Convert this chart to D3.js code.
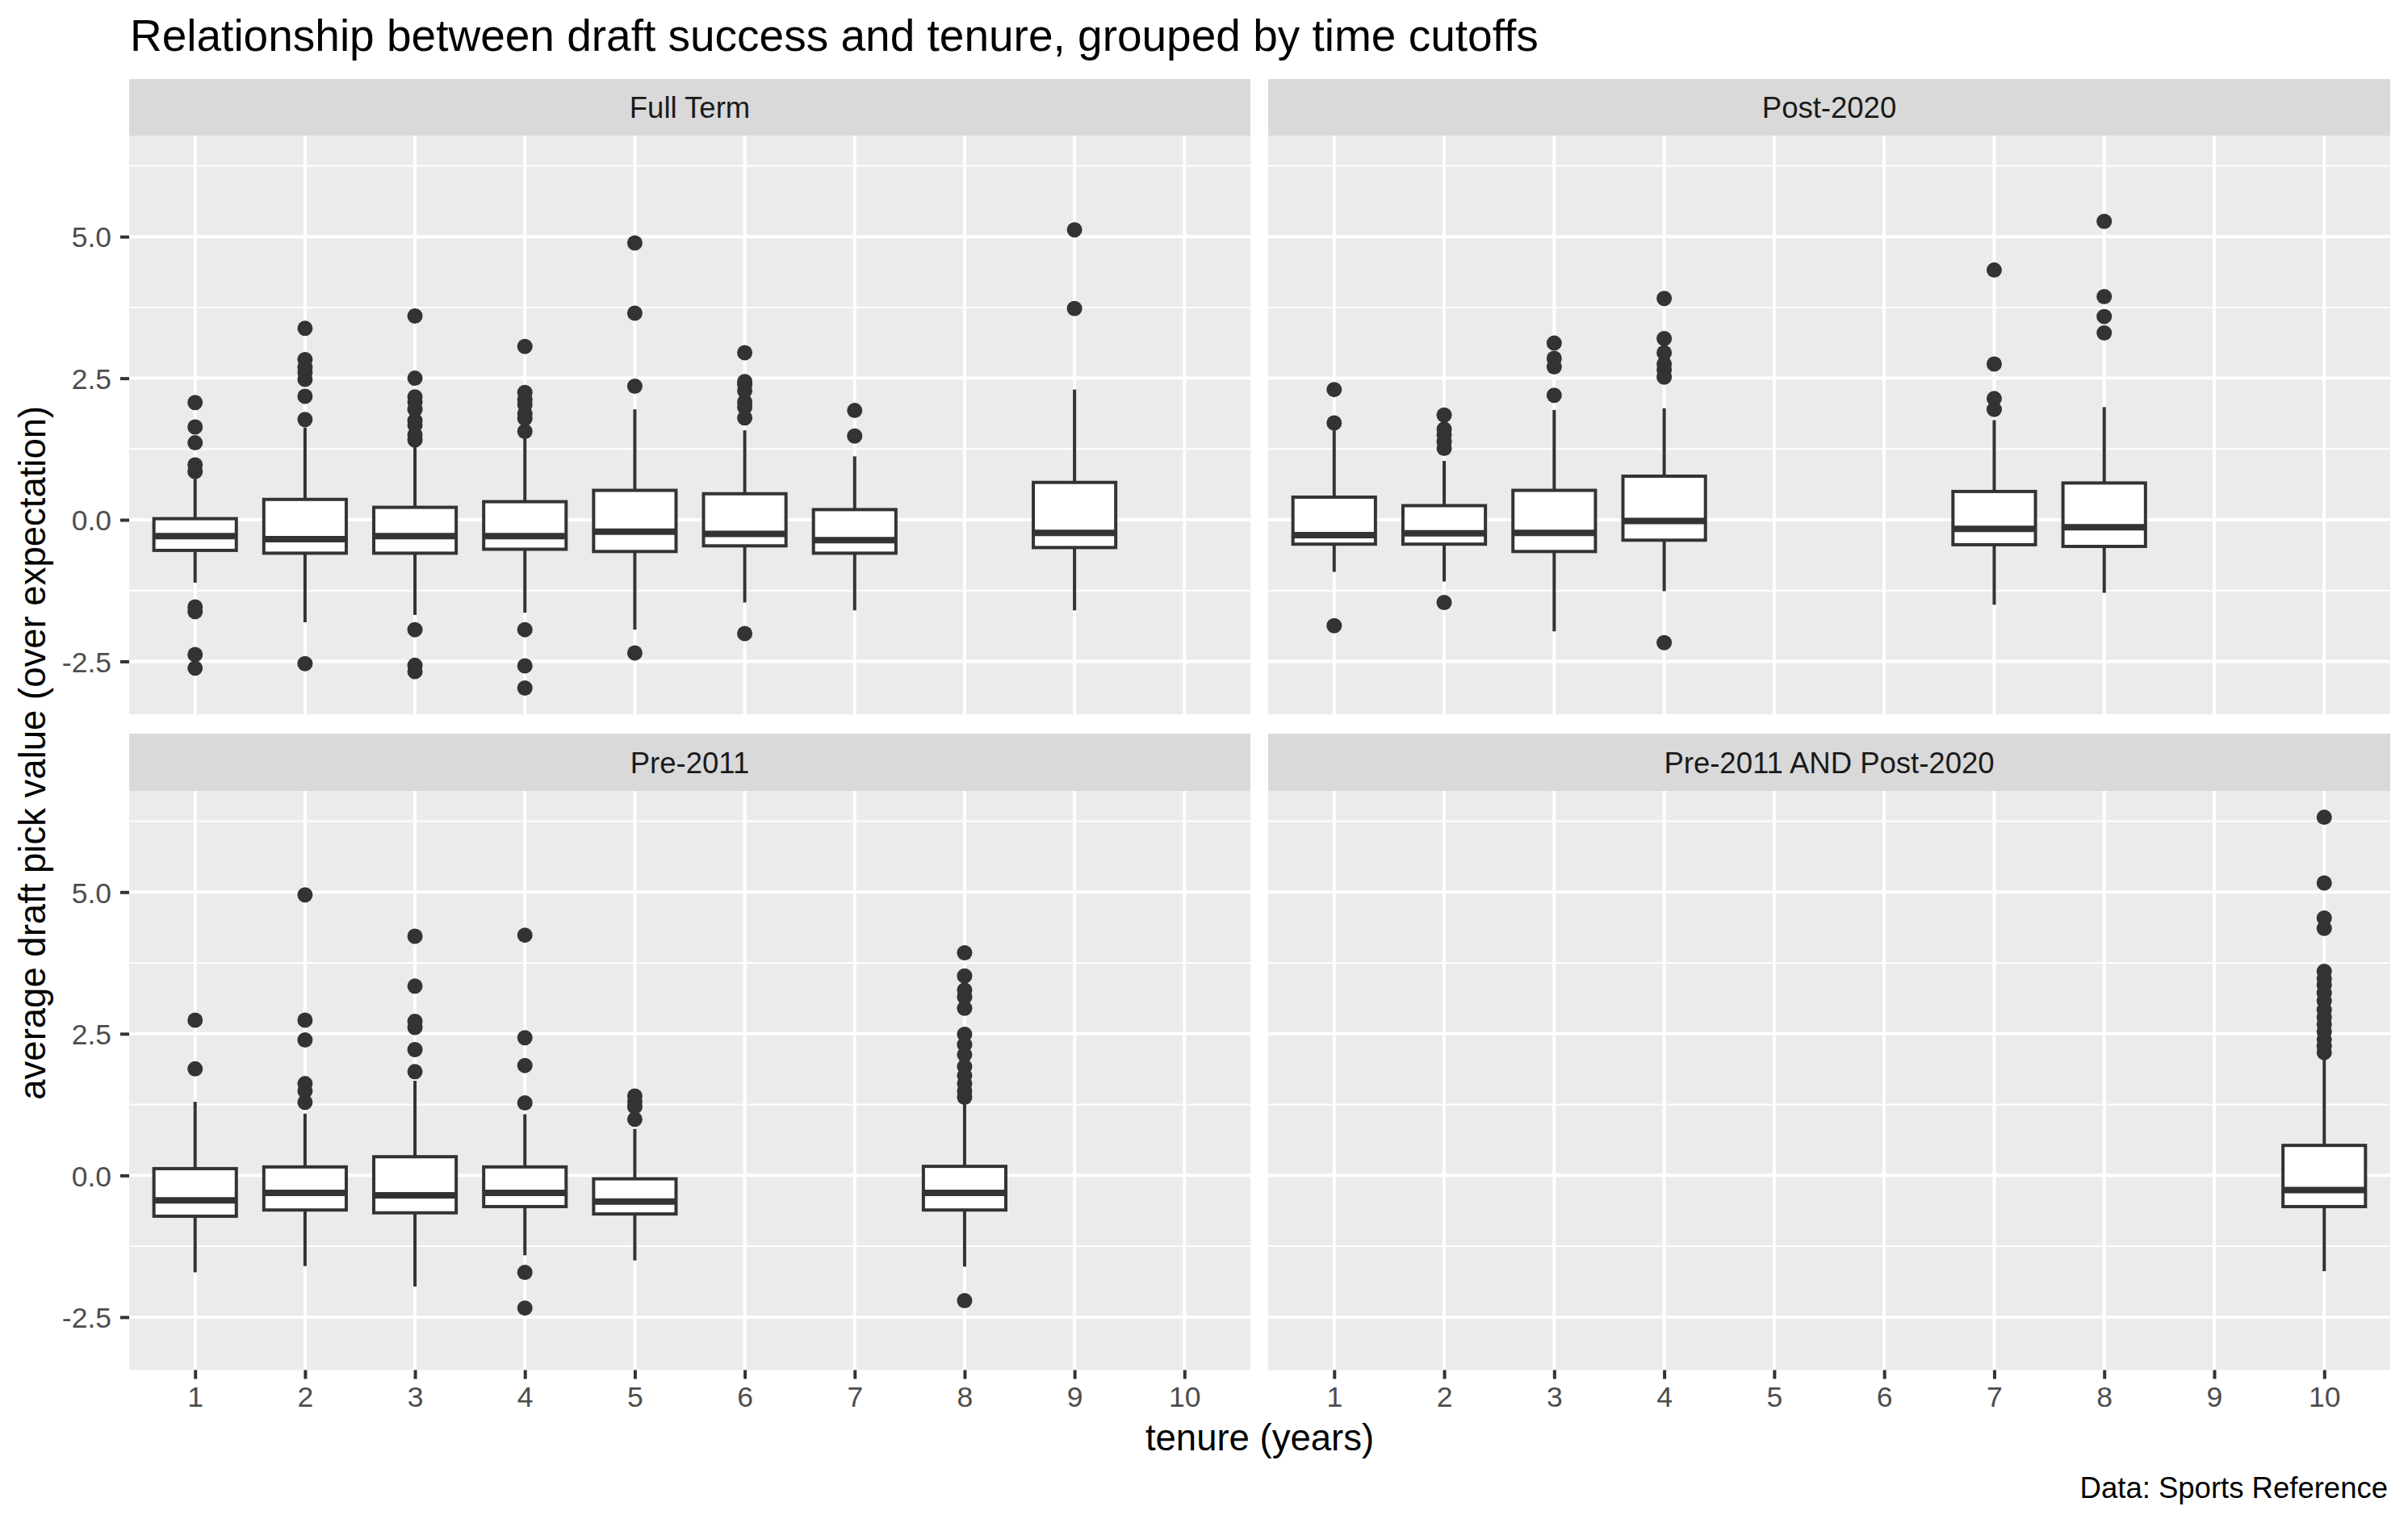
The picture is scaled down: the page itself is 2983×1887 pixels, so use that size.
<!DOCTYPE html>
<html>
<head>
<meta charset="utf-8">
<script src="https://cdn.jsdelivr.net/npm/d3@7"></script>
<style>
  html, body { margin: 0; padding: 0; background: #ffffff; }
  svg { display: block; }
  text { font-family: "Liberation Sans", Arial, Helvetica, sans-serif; }
</style>
</head>
<body>
<svg id="chart" width="2983" height="1887"></svg>
<script>
// ---------------- DATA ----------------
const facetNames = ["Full Term", "Post-2020", "Pre-2011", "Pre-2011 AND Post-2020"];
const tenureCategories = [1, 2, 3, 4, 5, 6, 7, 8, 9, 10];
const yTickValues = [-2.5, 0, 2.5, 5];
const yTickLabels = ["-2.5", "0.0", "2.5", "5.0"];
const yMinorValues = [-3.75, -1.25, 1.25, 3.75, 6.25];

// Full Term
const fullTermTenure  = [1, 2, 3, 4, 5, 6, 7, 9];
const fullTermLower   = [-1.11, -1.81, -1.68, -1.64, -1.94, -1.46, -1.60, -1.60];
const fullTermQ1      = [-0.54, -0.59, -0.59, -0.52, -0.56, -0.46, -0.59, -0.49];
const fullTermMedian  = [-0.29, -0.34, -0.29, -0.29, -0.21, -0.25, -0.36, -0.23];
const fullTermQ3      = [0.02, 0.36, 0.22, 0.32, 0.52, 0.46, 0.18, 0.66];
const fullTermUpper   = [0.72, 1.63, 1.30, 1.46, 1.95, 1.58, 1.12, 2.30];
const fullTermOutliers = [
  [0.85, 0.97, 1.36, 1.64, 2.07, -1.54, -1.62, -2.38, -2.62],
  [1.77, 2.18, 2.48, 2.60, 2.69, 2.83, 3.38, -2.54],
  [1.41, 1.50, 1.67, 1.75, 1.95, 2.08, 2.17, 2.50, 3.60, -1.94, -2.57, -2.68],
  [1.56, 1.79, 1.87, 2.03, 2.12, 2.25, 3.06, -1.94, -2.58, -2.97],
  [2.36, 3.65, 4.89, -2.35],
  [1.80, 1.99, 2.08, 2.28, 2.39, 2.44, 2.95, -2.01],
  [1.48, 1.93],
  [3.73, 5.12]
];

// Post-2020
const post2020Tenure  = [1, 2, 3, 4, 7, 8];
const post2020Lower   = [-0.92, -1.09, -1.97, -1.26, -1.50, -1.29];
const post2020Q1      = [-0.43, -0.43, -0.56, -0.36, -0.44, -0.47];
const post2020Median  = [-0.27, -0.24, -0.23, -0.02, -0.16, -0.13];
const post2020Q3      = [0.40, 0.25, 0.52, 0.77, 0.50, 0.65];
const post2020Upper   = [1.58, 1.04, 1.94, 1.97, 1.76, 1.99];
const post2020Outliers = [
  [1.71, 2.30, -1.87],
  [1.26, 1.38, 1.50, 1.60, 1.85, -1.46],
  [2.20, 2.70, 2.85, 3.12],
  [2.52, 2.65, 2.75, 2.95, 3.20, 3.91, -2.17],
  [1.95, 2.14, 2.75, 4.41],
  [3.30, 3.59, 3.94, 5.27]
];

// Pre-2011
const pre2011Tenure  = [1, 2, 3, 4, 5, 8];
const pre2011Lower   = [-1.71, -1.60, -1.96, -1.41, -1.50, -1.61];
const pre2011Q1      = [-0.72, -0.61, -0.66, -0.55, -0.68, -0.61];
const pre2011Median  = [-0.44, -0.31, -0.35, -0.31, -0.46, -0.31];
const pre2011Q3      = [0.12, 0.15, 0.33, 0.15, -0.06, 0.16];
const pre2011Upper   = [1.30, 1.09, 1.67, 1.08, 0.82, 1.30];
const pre2011Outliers = [
  [1.88, 2.74],
  [1.29, 1.49, 1.62, 2.39, 2.74, 4.95],
  [1.83, 2.22, 2.61, 2.72, 3.34, 4.22],
  [1.28, 1.94, 2.43, 4.24, -1.71, -2.34],
  [0.99, 1.21, 1.30, 1.40],
  [1.38, 1.49, 1.62, 1.76, 1.92, 2.13, 2.31, 2.49, 2.95, 3.15, 3.27, 3.52, 3.93, -2.21]
];

// Pre-2011 AND Post-2020
const bothTenure  = [10];
const bothLower   = [-1.69];
const bothQ1      = [-0.55];
const bothMedian  = [-0.26];
const bothQ3      = [0.53];
const bothUpper   = [2.13];
const bothOutliers = [
  [2.17, 2.28, 2.40, 2.54, 2.67, 2.79, 2.92, 3.08, 3.22, 3.36, 3.47, 3.60, 4.36, 4.54, 5.16, 6.32]
];

const titleText = "Relationship between draft success and tenure, grouped by time cutoffs";
const xTitleText = "tenure (years)";
const yTitleText = "average draft pick value (over expectation)";
const captionText = "Data: Sports Reference";

// ---------------- BUILD ----------------
function buildFacet(tenure, lower, q1, med, q3, upper, outs) {
  return tenure.map((t, i) => ({
    tenure: t, lower: lower[i], q1: q1[i], median: med[i], q3: q3[i], upper: upper[i], outliers: outs[i]
  }));
}
const facetData = [
  buildFacet(fullTermTenure, fullTermLower, fullTermQ1, fullTermMedian, fullTermQ3, fullTermUpper, fullTermOutliers),
  buildFacet(post2020Tenure, post2020Lower, post2020Q1, post2020Median, post2020Q3, post2020Upper, post2020Outliers),
  buildFacet(pre2011Tenure, pre2011Lower, pre2011Q1, pre2011Median, pre2011Q3, pre2011Upper, pre2011Outliers),
  buildFacet(bothTenure, bothLower, bothQ1, bothMedian, bothQ3, bothUpper, bothOutliers)
];

const svg = d3.select("#chart");

const colX = [[160, 1549], [1571, 2961]];
const rowY = [{ stripTop: 98, panelTop: 168, panelBottom: 885 },
              { stripTop: 909, panelTop: 980, panelBottom: 1697.5 }];

// y domain like ggplot (5% expansion)
let allVals = [];
facetData.forEach(f => f.forEach(b => { allVals.push(b.lower, b.upper, ...b.outliers); }));
const yMin = d3.min(allVals), yMax = d3.max(allVals);
const yPad = (yMax - yMin) * 0.05;

const boxColor = "#333333";
const font = "'Liberation Sans', Arial, Helvetica, sans-serif";
const smallSize = 36.5;
const axisTitleSize = 45.5;
const titleSize = 55;

// Title
svg.append("text").attr("x", 161).attr("y", 63)
  .attr("font-size", titleSize).attr("fill", "#000").text(titleText);

facetNames.forEach((name, fi) => {
  const col = fi % 2, row = Math.floor(fi / 2);
  const [x0, x1] = colX[col];
  const { stripTop, panelTop, panelBottom } = rowY[row];

  const x = d3.scalePoint().domain(tenureCategories).range([x0, x1]).padding(0.6);
  const y = d3.scaleLinear().domain([yMin - yPad, yMax + yPad]).range([panelBottom, panelTop]);
  const step = x.step();
  const boxW = step * 0.75;

  const g = svg.append("g");

  // strip
  g.append("rect").attr("x", x0).attr("y", stripTop).attr("width", x1 - x0).attr("height", panelTop - stripTop)
    .attr("fill", "#D9D9D9");
  g.append("text").attr("x", (x0 + x1) / 2).attr("y", (stripTop + panelTop) / 2)
    .attr("dy", "0.36em").attr("text-anchor", "middle").attr("font-size", smallSize).attr("fill", "#1A1A1A")
    .text(name);

  // panel
  g.append("rect").attr("x", x0).attr("y", panelTop).attr("width", x1 - x0).attr("height", panelBottom - panelTop)
    .attr("fill", "#EBEBEB");

  // minor grid
  g.selectAll(".minor").data(yMinorValues.filter(v => v > y.domain()[0] && v < y.domain()[1]))
    .enter().append("line")
    .attr("x1", x0).attr("x2", x1).attr("y1", d => y(d)).attr("y2", d => y(d))
    .attr("stroke", "#FFFFFF").attr("stroke-width", 2);
  // major grid
  g.selectAll(".majorY").data(yTickValues).enter().append("line")
    .attr("x1", x0).attr("x2", x1).attr("y1", d => y(d)).attr("y2", d => y(d))
    .attr("stroke", "#FFFFFF").attr("stroke-width", 4);
  g.selectAll(".majorX").data(tenureCategories).enter().append("line")
    .attr("x1", d => x(d)).attr("x2", d => x(d)).attr("y1", panelTop).attr("y2", panelBottom)
    .attr("stroke", "#FFFFFF").attr("stroke-width", 4);

  // boxes
  const boxes = g.selectAll(".box").data(facetData[fi]).enter().append("g");
  boxes.append("line")
    .attr("x1", d => x(d.tenure)).attr("x2", d => x(d.tenure))
    .attr("y1", d => y(d.q3)).attr("y2", d => y(d.upper))
    .attr("stroke", boxColor).attr("stroke-width", 4);
  boxes.append("line")
    .attr("x1", d => x(d.tenure)).attr("x2", d => x(d.tenure))
    .attr("y1", d => y(d.q1)).attr("y2", d => y(d.lower))
    .attr("stroke", boxColor).attr("stroke-width", 4);
  boxes.append("rect")
    .attr("x", d => x(d.tenure) - boxW / 2).attr("width", boxW)
    .attr("y", d => y(d.q3)).attr("height", d => y(d.q1) - y(d.q3))
    .attr("fill", "#FFFFFF").attr("stroke", boxColor).attr("stroke-width", 4);
  boxes.append("line")
    .attr("x1", d => x(d.tenure) - boxW / 2).attr("x2", d => x(d.tenure) + boxW / 2)
    .attr("y1", d => y(d.median)).attr("y2", d => y(d.median))
    .attr("stroke", boxColor).attr("stroke-width", 8);
  boxes.each(function(d) {
    d3.select(this).selectAll("circle").data(d.outliers).enter().append("circle")
      .attr("cx", x(d.tenure)).attr("cy", v => y(v)).attr("r", 9.5)
      .attr("fill", boxColor);
  });

  // y axis on left column
  if (col === 0) {
    const ax = g.append("g").attr("transform", `translate(${x0},0)`)
      .call(d3.axisLeft(y).tickValues(yTickValues)
        .tickFormat((d, i) => yTickLabels[i]).tickSize(11).tickPadding(11));
    ax.select(".domain").remove();
    ax.selectAll("line").attr("stroke", "#333333").attr("stroke-width", 4);
    ax.selectAll("text").attr("font-size", 35.5).attr("fill", "#4D4D4D").attr("font-family", font)
      .attr("dy", "0.36em");
  }
  // x axis on bottom row
  if (row === 1) {
    const ax = g.append("g").attr("transform", `translate(0,${panelBottom})`)
      .call(d3.axisBottom(x).tickSize(11).tickPadding(9));
    ax.select(".domain").remove();
    ax.selectAll("line").attr("stroke", "#333333").attr("stroke-width", 4);
    ax.selectAll("text").attr("font-size", 35.5).attr("fill", "#4D4D4D").attr("font-family", font);
  }
});

// axis titles
svg.append("text").attr("x", (160 + 2961) / 2).attr("y", 1797)
  .attr("text-anchor", "middle").attr("font-size", axisTitleSize).attr("fill", "#000").text(xTitleText);
svg.append("text").attr("transform", `translate(56, ${(168 + 1697.5) / 2}) rotate(-90)`)
  .attr("text-anchor", "middle").attr("font-size", axisTitleSize).attr("fill", "#000").text(yTitleText);

// caption
svg.append("text").attr("x", 2958).attr("y", 1856)
  .attr("text-anchor", "end").attr("font-size", smallSize).attr("fill", "#000").text(captionText);
</script>
</body>
</html>
